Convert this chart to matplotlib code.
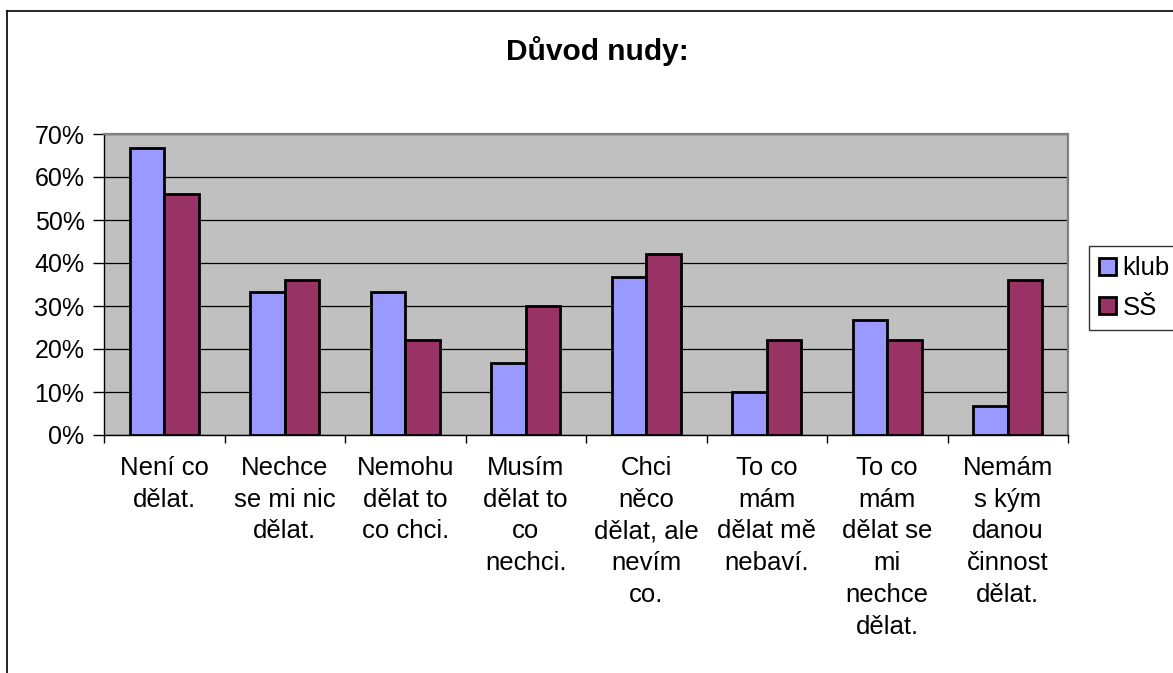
import numpy as np
import matplotlib
matplotlib.use("Agg")
import matplotlib.pyplot as plt
from matplotlib.lines import Line2D
from matplotlib.ticker import FixedLocator

plt.rcParams['font.family'] = ['Liberation Sans', 'DejaVu Sans']

##-----------DATA-----------##
categories = ["Není co\ndělat.",
              "Nechce\nse mi nic\ndělat.",
              "Nemohu\ndělat to\nco chci.",
              "Musím\ndělat to\nco\nnechci.",
              "Chci\nněco\ndělat, ale\nnevím\nco.",
              "To co\nmám\ndělat mě\nnebaví.",
              "To co\nmám\ndělat se\nmi\nnechce\ndělat.",
              "Nemám\ns kým\ndanou\nčinnost\ndělat."]
klub = [66.7, 33.3, 33.3, 16.7, 36.7, 10.0, 26.7, 6.7]
ss = [56.0, 36.0, 22.0, 30.0, 42.0, 22.0, 22.0, 36.0]
series_names = ["klub", "SŠ"]
yticks = [0, 10, 20, 30, 40, 50, 60, 70]
title = "Důvod nudy:"

##-----------FIGURE-----------##
W, H = 1173, 673
fig = plt.figure(figsize=(W/100, H/100), dpi=100)
ax = fig.add_axes([104/W, 1 - 435/H, (1068-104)/W, (435-134)/H])
ax.set_facecolor('#C0C0C0')

x = np.arange(len(categories))
w = 1/3.5
ax.bar(x - w/2, klub, w, color='#9999FF', edgecolor='black', linewidth=2.0, label=series_names[0], zorder=3)
ax.bar(x + w/2, ss, w, color='#993366', edgecolor='black', linewidth=2.0, label=series_names[1], zorder=3)

ax.set_xlim(-0.5, len(categories) - 0.5)
ax.set_ylim(0, 70)
ax.set_yticks(yticks)
ax.set_yticklabels(["%d%%" % v for v in yticks])
ax.yaxis.grid(True, color='black', linewidth=0.9, zorder=1)
ax.set_axisbelow(True)

ax.set_xticks(x)
ax.set_xticklabels(categories, fontsize=18.5, linespacing=1.41)
ax.xaxis.set_minor_locator(FixedLocator(np.arange(-0.5, len(categories), 1.0)))
ax.tick_params(axis='x', which='major', length=0, pad=15)
ax.tick_params(axis='x', which='minor', length=6, width=1, direction='out', color='black')
ax.tick_params(axis='y', length=8, width=1, direction='out', pad=6, labelsize=18)

for s in ['top', 'right']:
	ax.spines[s].set_color('#808080')
	ax.spines[s].set_linewidth(1.6)
for s in ['left', 'bottom']:
	ax.spines[s].set_color('black')
	ax.spines[s].set_linewidth(1.0)

fig.text(597/W, 1 - 51/H, title, fontsize=21.5, fontweight='bold', ha='center', va='center')

leg = fig.legend(loc='upper left', bbox_to_anchor=(1089/W, 1 - 246/H), fontsize=18.5,
				 frameon=True, fancybox=False, edgecolor='black', borderpad=0.4,
				 handlelength=0.65, handleheight=0.65, handletextpad=0.25, labelspacing=0.6,
				 borderaxespad=0)
leg.get_frame().set_linewidth(1.0)

# chart area border (left and top edges visible)
fig.add_artist(Line2D([7/W, 7/W], [0, 1 - 11/H], color='black', linewidth=1.2))
fig.add_artist(Line2D([7/W, 1], [1 - 11/H, 1 - 11/H], color='black', linewidth=1.2))

fig.savefig("out.png", dpi=100)
